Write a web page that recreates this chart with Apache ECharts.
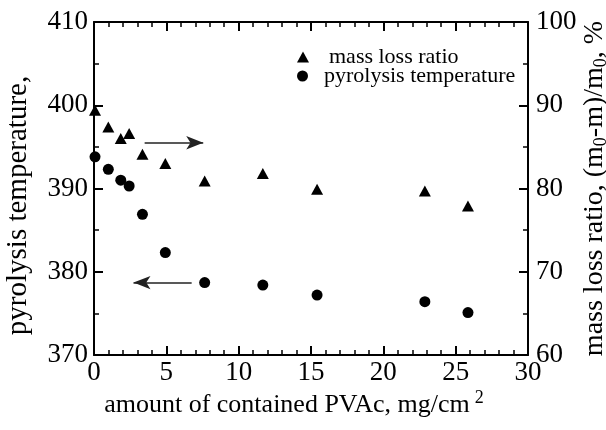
<!DOCTYPE html>
<html>
<head>
<meta charset="utf-8">
<script src="https://cdn.jsdelivr.net/npm/echarts@6/dist/echarts.min.js"></script>
<style>
    html, body { margin: 0; padding: 0; background: #fff; }
    #chart { width: 606px; height: 430px; }
</style>
</head>
<body>
<div id="chart"></div>
<script>
// amount of contained PVAc (mg/cm2), shared by both series
const pvacAmount = [0.07, 0.99, 1.85, 2.43, 3.35, 4.93, 7.65, 11.67, 15.42, 22.87, 25.85];
const massLossRatio = [89.4, 87.4, 86.0, 86.6, 84.1, 83.0, 80.9, 81.8, 79.9, 79.7, 77.9];
const pyrolysisTemp = [393.8, 392.3, 391.0, 390.3, 386.9, 382.3, 378.7, 378.4, 377.2, 376.4, 375.1];

// arrows: [start, end] in data units of the axis they point to
const arrowToRight = [[3.5, 85.5], [7.55, 85.5]];
const arrowToLeft = [[6.75, 378.7], [2.73, 378.7]];

const FONT = 'Liberation Serif';
const black = '#000';

const chart = echarts.init(document.getElementById('chart'));

const axisBase = {
    type: 'value',
    nameMoveOverlap: false,
    axisLine: { show: true, onZero: false, lineStyle: { color: black, width: 2 } },
    axisTick: { show: true, inside: true, length: 9, lineStyle: { color: black, width: 2 } },
    minorTick: { show: true, length: 5, lineStyle: { color: black, width: 1.5 } },
    splitLine: { show: false },
    minorSplitLine: { show: false },
    axisLabel: { color: black, fontSize: 27, fontFamily: FONT },
    nameTextStyle: { color: black, fontSize: 28, fontFamily: FONT }
};

const arrowMark = (pts) => ({
    silent: true,
    symbol: ['none', 'arrow'],
    symbolSize: [10, 17],
    label: { show: false },
    lineStyle: { color: '#222', width: 1.5, type: 'solid' },
    data: [[{ coord: pts[0] }, { coord: pts[1] }]]
});

chart.setOption({
    animation: false,
    grid: { left: 94, right: 78, top: 22, bottom: 75, containLabel: false, outerBoundsMode: 'none' },
    legend: [
        {
            data: ['mass loss ratio'],
            left: 292, top: 41,
            itemWidth: 12, itemHeight: 11,
            textStyle: { color: black, fontSize: 22, fontFamily: FONT, padding: [0, 0, 0, 15] }
        },
        {
            data: ['pyrolysis temperature'],
            left: 292, top: 60,
            itemWidth: 11, itemHeight: 11,
            textStyle: { color: black, fontSize: 22, fontFamily: FONT, padding: [0, 0, 0, 11] }
        }
    ],
    xAxis: [
        {
            ...axisBase,
            position: 'bottom',
            min: 0, max: 30, interval: 5,
            minorTick: { ...axisBase.minorTick, splitNumber: 5 },
            axisLabel: { ...axisBase.axisLabel, margin: 4 },
            name: 'amount of contained PVAc, mg/cm{sup|2}',
            nameLocation: 'middle',
            nameGap: 34,
            nameTextStyle: {
                ...axisBase.nameTextStyle,
                fontSize: 26,
                padding: [0, 34, 0, 0],
                rich: { sup: { fontSize: 18, fontFamily: FONT, color: black, padding: [0, 0, 14, 5] } }
            }
        },
        {
            ...axisBase,
            position: 'top',
            min: 0, max: 30, interval: 5,
            minorTick: { ...axisBase.minorTick, splitNumber: 5 },
            axisLabel: { show: false }
        }
    ],
    yAxis: [
        {
            ...axisBase,
            position: 'left',
            min: 370, max: 410, interval: 10,
            minorTick: { ...axisBase.minorTick, splitNumber: 2 },
            axisLabel: { ...axisBase.axisLabel, margin: 6 },
            name: 'pyrolysis temperature,',
            nameLocation: 'middle',
            nameRotate: 90,
            nameGap: 61,
            nameTextStyle: { ...axisBase.nameTextStyle, fontSize: 29, padding: [0, 34, 0, 0] }
        },
        {
            ...axisBase,
            position: 'right',
            min: 60, max: 100, interval: 10,
            minorTick: { ...axisBase.minorTick, splitNumber: 2 },
            axisLabel: { ...axisBase.axisLabel, margin: 8 },
            name: 'mass loss ratio, (m{sub|0}-m)/m{sub|0}, %',
            nameLocation: 'middle',
            nameRotate: 90,
            nameGap: 52,
            nameTextStyle: {
                ...axisBase.nameTextStyle,
                rich: { sub: { fontSize: 18, fontFamily: FONT, color: black, padding: [12, 0, 0, 0] } }
            }
        }
    ],
    series: [
        {
            name: 'mass loss ratio',
            type: 'scatter',
            xAxisIndex: 0,
            yAxisIndex: 1,
            symbol: 'triangle',
            symbolSize: [12, 11],
            itemStyle: { color: black, opacity: 1 },
            data: pvacAmount.map((x, i) => [x, massLossRatio[i]]),
            markLine: arrowMark(arrowToRight)
        },
        {
            name: 'pyrolysis temperature',
            type: 'scatter',
            xAxisIndex: 0,
            yAxisIndex: 0,
            symbol: 'circle',
            symbolSize: 11,
            itemStyle: { color: black, opacity: 1 },
            data: pvacAmount.map((x, i) => [x, pyrolysisTemp[i]]),
            markLine: arrowMark(arrowToLeft)
        }
    ]
});
</script>
</body>
</html>
